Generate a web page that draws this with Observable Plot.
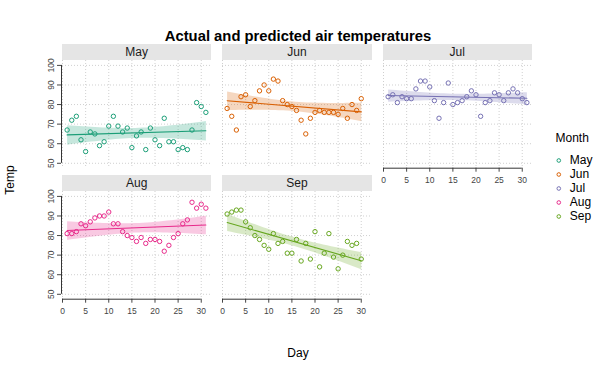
<!DOCTYPE html>
<html><head><meta charset="utf-8">
<script src="https://cdn.jsdelivr.net/npm/d3@7"></script>
<script src="https://cdn.jsdelivr.net/npm/@observablehq/plot@0.6"></script>
<style>
body{margin:0;background:#fff;font-family:"Liberation Sans",Arial,sans-serif;}
#chart{position:relative;width:600px;height:375px;overflow:hidden;background:#fff;}
.abs{position:absolute;}
.strip{position:absolute;background:#e5e5e5;font-size:12px;color:#1a1a1a;text-align:center;}
.title{position:absolute;left:0;width:596px;text-align:center;font-weight:bold;font-size:14.8px;color:#000;}
</style></head><body><div id="chart"></div>
<script>
const months = ["May","Jun","Jul","Aug","Sep"];
const colors = ["#1B9E77","#D95F02","#7570B3","#E7298A","#66A61E"];
const tempMay = [67,72,74,62,56,66,65,59,61,69,74,69,66,68,58,64,66,57,68,62,59,73,61,61,57,58,57,67,81,79,76];
const tempJun = [78,74,67,84,85,79,82,87,90,87,93,92,82,80,79,77,72,65,73,76,77,76,76,76,75,78,73,80,77,83];
const tempJul = [84,85,81,84,83,83,88,92,92,89,82,73,81,91,80,81,82,84,87,85,74,81,82,86,85,82,86,88,86,83,81];
const tempAug = [81,81,82,86,85,87,89,90,90,92,86,86,82,80,79,77,79,76,78,78,77,72,75,79,81,86,88,97,94,96,94];
const tempSep = [91,92,93,93,87,84,80,78,75,73,81,76,77,71,71,78,67,76,68,82,64,71,81,69,63,70,77,75,76,68];
const temps = [tempMay,tempJun,tempJul,tempAug,tempSep];
const xTicks = [0,5,10,15,20,25,30];
const yTicks = [50,60,70,80,90,100];

const chart = document.getElementById("chart");
function addDiv(cls, text, style){
  const d = document.createElement("div");
  d.className = cls; d.textContent = text;
  Object.assign(d.style, style);
  chart.appendChild(d);
  return d;
}

// layout
const colLeft = [62, 222.3, 382.5];
const rowTop = [60.4, 191.3];
const pw = 149.4, ph = 107.7, stripH = 16.3;
const mL = 32, mR = 2, mB = 30;

months.forEach((m, i) => {
  const col = i % 3, row = Math.floor(i / 3);
  const data = temps[i].map((t, j) => ({Month: m, Day: j + 1, Temp: t}));
  const leftAxis = col === 0;
  const bottomAxis = row === 1 || i === 2;
  const c = colors[i];
  const marks = [
    Plot.gridX(xTicks, {stroke: "#cfcfcf", strokeOpacity: 1, strokeDasharray: "1,2"}),
    Plot.gridY(yTicks, {stroke: "#cfcfcf", strokeOpacity: 1, strokeDasharray: "1,2"}),
    Plot.linearRegressionY(data, {x: "Day", y: "Temp", stroke: c, fill: c, fillOpacity: 0.25, strokeWidth: 1.1}),
    Plot.dot(data, {x: "Day", y: "Temp", r: 2.2, stroke: c, strokeWidth: 1})
  ];
  if (leftAxis) {
    marks.push(Plot.axisY(yTicks, {tickSize: 4, tickPadding: 4, tickRotate: -90, fontSize: 8.5, color: "#444", dx: -1, label: null}));
    marks.push(Plot.ruleX([0], {y1: 50, y2: 100, dx: -1, stroke: "#333"}));
  }
  if (bottomAxis) {
    marks.push(Plot.axisX(xTicks, {tickSize: 4, fontSize: 8.5, color: "#444", label: null}));
    marks.push(Plot.ruleY([47.5], {x1: 0, x2: 30, stroke: "#333"}));
  }
  const p = Plot.plot({
    width: mL + pw + mR, height: ph + mB,
    marginLeft: mL, marginRight: mR, marginTop: 0, marginBottom: mB,
    style: {fontFamily: '"Liberation Sans",Arial,sans-serif', background: "transparent", overflow: "visible"},
    x: {domain: [0, 32.3], axis: bottomAxis ? undefined : null},
    y: {domain: [47.5, 102.5], axis: leftAxis ? undefined : null},
    marks
  });
  p.style.position = "absolute";
  p.style.left = (colLeft[col] - mL) + "px";
  p.style.top = rowTop[row] + "px";
  chart.appendChild(p);
  addDiv("strip", m, {left: colLeft[col] + "px", top: (rowTop[row] - stripH) + "px", width: pw + "px", height: stripH + "px", lineHeight: stripH + "px"});
});

// title & axis titles
addDiv("title", "Actual and predicted air temperatures", {top: "27px", lineHeight: "18px"});
addDiv("abs", "Day", {left: "248px", width: "100px", textAlign: "center", top: "345px", fontSize: "12px", lineHeight: "16px", color: "#000"});
addDiv("abs", "Temp", {left: "-40px", width: "100px", textAlign: "center", top: "172px", fontSize: "12px", lineHeight: "16px", color: "#000", transform: "rotate(-90deg)", transformOrigin: "50px 8px"});

// legend
const leg = Plot.plot({
  width: 60, height: 105, margin: 0,
  style: {fontFamily: '"Liberation Sans",Arial,sans-serif', background: "transparent", overflow: "visible"},
  x: {axis: null, domain: [0, 1]},
  y: {type: "point", domain: months, range: [32.7, 92.3], padding: 0, axis: null},
  color: {domain: months, range: colors},
  marks: [
    Plot.text(["Month"], {frameAnchor: "top-left", dx: 15, dy: 13, lineAnchor: "middle", textAnchor: "start", fontSize: 12, fill: "#000"}),
    Plot.dot(months, {y: d => d, frameAnchor: "left", dx: 18.3, r: 1.8, stroke: d => d, strokeWidth: 1}),
    Plot.text(months, {y: d => d, text: d => d, frameAnchor: "left", dx: 29.3, textAnchor: "start", fontSize: 12, fill: "#000"})
  ]
});
leg.style.position = "absolute";
leg.style.left = "540px";
leg.style.top = "125px";
chart.appendChild(leg);
</script></body></html>
